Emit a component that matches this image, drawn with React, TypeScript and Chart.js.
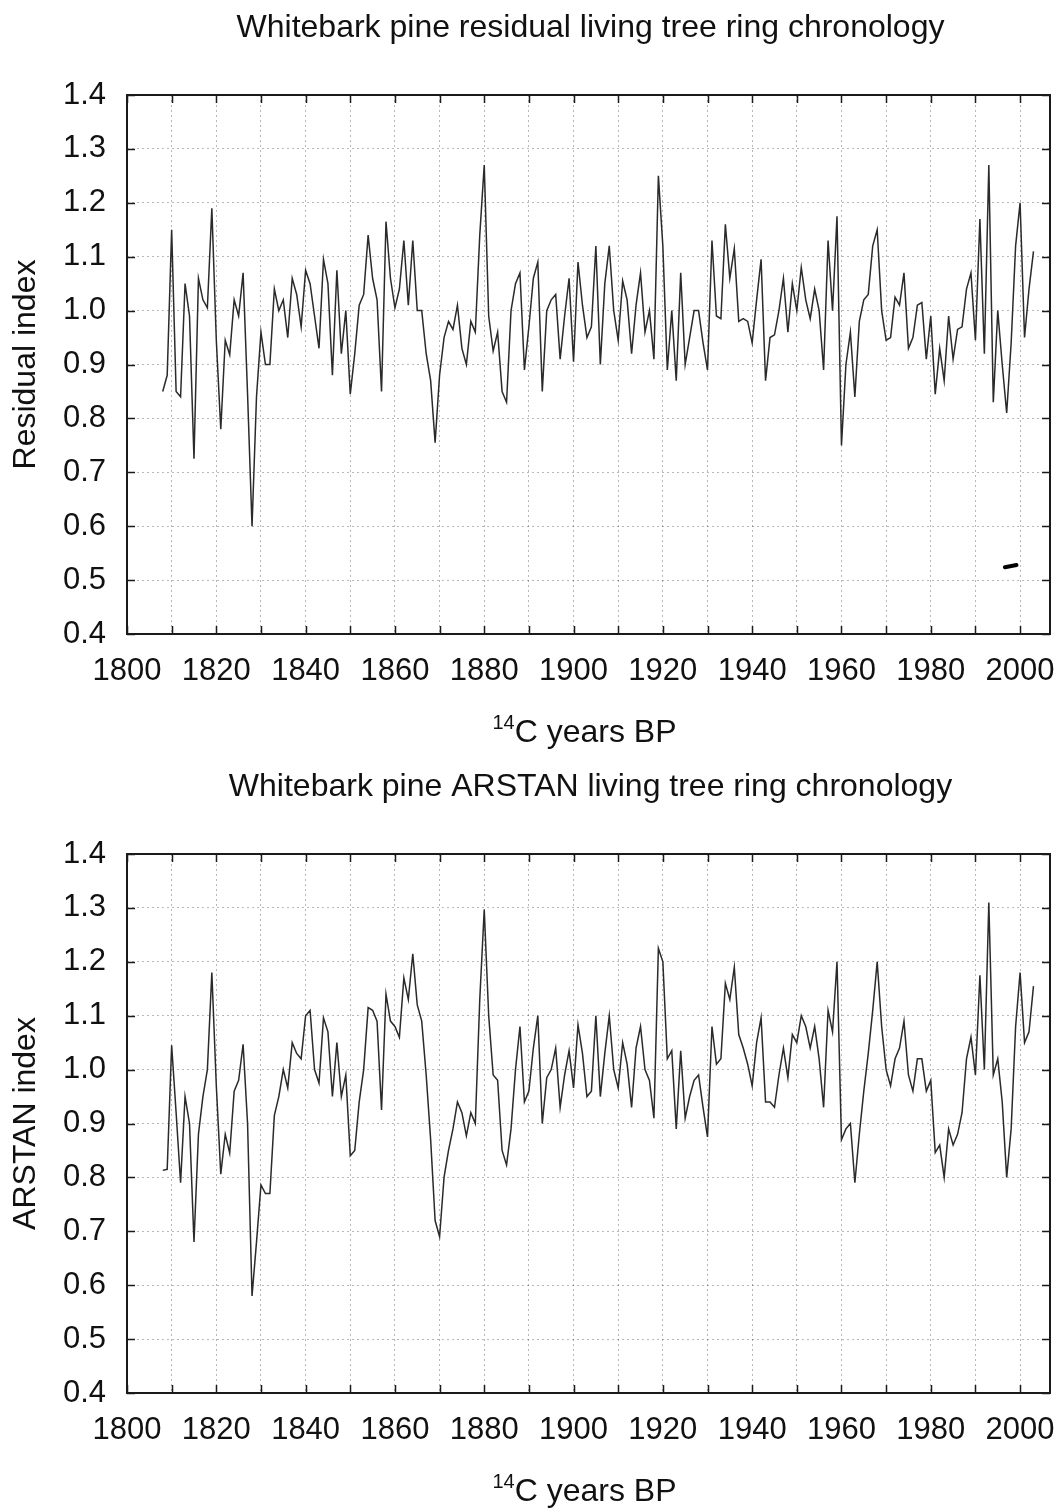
import React, { useEffect, useRef } from "react";
import { Chart, registerables } from "chart.js";

Chart.register(...registerables);

// ---------------- data ----------------
const years = [
  1808, 1809, 1810, 1811, 1812, 1813, 1814, 1815, 1816, 1817,
  1818, 1819, 1820, 1821, 1822, 1823, 1824, 1825, 1826, 1827,
  1828, 1829, 1830, 1831, 1832, 1833, 1834, 1835, 1836, 1837,
  1838, 1839, 1840, 1841, 1842, 1843, 1844, 1845, 1846, 1847,
  1848, 1849, 1850, 1851, 1852, 1853, 1854, 1855, 1856, 1857,
  1858, 1859, 1860, 1861, 1862, 1863, 1864, 1865, 1866, 1867,
  1868, 1869, 1870, 1871, 1872, 1873, 1874, 1875, 1876, 1877,
  1878, 1879, 1880, 1881, 1882, 1883, 1884, 1885, 1886, 1887,
  1888, 1889, 1890, 1891, 1892, 1893, 1894, 1895, 1896, 1897,
  1898, 1899, 1900, 1901, 1902, 1903, 1904, 1905, 1906, 1907,
  1908, 1909, 1910, 1911, 1912, 1913, 1914, 1915, 1916, 1917,
  1918, 1919, 1920, 1921, 1922, 1923, 1924, 1925, 1926, 1927,
  1928, 1929, 1930, 1931, 1932, 1933, 1934, 1935, 1936, 1937,
  1938, 1939, 1940, 1941, 1942, 1943, 1944, 1945, 1946, 1947,
  1948, 1949, 1950, 1951, 1952, 1953, 1954, 1955, 1956, 1957,
  1958, 1959, 1960, 1961, 1962, 1963, 1964, 1965, 1966, 1967,
  1968, 1969, 1970, 1971, 1972, 1973, 1974, 1975, 1976, 1977,
  1978, 1979, 1980, 1981, 1982, 1983, 1984, 1985, 1986, 1987,
  1988, 1989, 1990, 1991, 1992, 1993, 1994, 1995, 1996, 1997,
  1998, 1999, 2000, 2001, 2002, 2003,
];

const residualIndex = [
  0.85, 0.88, 1.15, 0.85, 0.84, 1.05, 0.99, 0.725, 1.06, 1.02,
  1.005, 1.19, 0.945, 0.78, 0.945, 0.918, 1.02, 0.99, 1.07, 0.845,
  0.6, 0.84, 0.96, 0.9, 0.9, 1.04, 1.0, 1.02, 0.95, 1.06,
  1.03, 0.97, 1.075, 1.05, 0.99, 0.93, 1.095, 1.05, 0.88, 1.075,
  0.92, 1.0, 0.845, 0.92, 1.01, 1.03, 1.14, 1.06, 1.02, 0.85,
  1.165, 1.06, 1.005, 1.04, 1.13, 1.01, 1.13, 1.0, 1.0, 0.92,
  0.87, 0.755, 0.88, 0.95, 0.98, 0.965, 1.01, 0.93, 0.9, 0.98,
  0.96, 1.14, 1.27, 0.99, 0.925, 0.96, 0.85, 0.83, 1.0, 1.05,
  1.07, 0.89, 0.97, 1.06, 1.09, 0.85, 1.0, 1.02, 1.03, 0.91,
  0.99, 1.06, 0.905, 1.09, 1.01, 0.95, 0.97, 1.12, 0.9, 1.05,
  1.12, 1.0, 0.945, 1.055, 1.02, 0.92, 1.01, 1.07, 0.96, 1.0,
  0.91, 1.25, 1.12, 0.89, 1.0, 0.87, 1.07, 0.9, 0.95, 1.0,
  1.0, 0.94, 0.89, 1.13, 0.99, 0.985, 1.16, 1.06, 1.115, 0.98,
  0.985, 0.98, 0.94, 1.02, 1.095, 0.87, 0.95, 0.955, 1.0, 1.06,
  0.96, 1.05, 1.0, 1.08, 1.02, 0.985, 1.04, 1.0, 0.89, 1.13,
  1.0, 1.175, 0.75, 0.9, 0.96, 0.84, 0.98, 1.02, 1.03, 1.12,
  1.15, 1.0, 0.945, 0.95, 1.025, 1.01, 1.07, 0.93, 0.95, 1.01,
  1.015, 0.91, 0.99, 0.845, 0.93, 0.87, 0.99, 0.91, 0.965, 0.97,
  1.04, 1.07, 0.945, 1.17, 0.92, 1.27, 0.83, 1.0, 0.9, 0.81,
  0.94, 1.12, 1.2, 0.95, 1.04, 1.11,
];

const arstanIndex = [
  0.813, 0.815, 1.045, 0.92, 0.79, 0.95, 0.9, 0.68, 0.88, 0.95,
  1.0, 1.18, 0.97, 0.806, 0.88, 0.845, 0.96, 0.98, 1.047, 0.9,
  0.58, 0.68, 0.786, 0.77, 0.77, 0.915, 0.95, 1.0, 0.966, 1.05,
  1.03, 1.02, 1.1, 1.11, 1.0, 0.975, 1.096, 1.07, 0.95, 1.05,
  0.95, 0.99, 0.84, 0.85, 0.94, 1.0, 1.115, 1.11, 1.09, 0.925,
  1.14, 1.09, 1.08, 1.06, 1.17, 1.13, 1.215, 1.12, 1.09, 0.99,
  0.87, 0.72, 0.69, 0.8, 0.85, 0.89, 0.94, 0.92, 0.877, 0.92,
  0.9, 1.13, 1.297, 1.1, 0.99, 0.98, 0.85, 0.823, 0.89, 1.0,
  1.08, 0.94, 0.96, 1.04, 1.1, 0.9, 0.985, 1.0, 1.04, 0.93,
  0.99, 1.035, 0.966, 1.083, 1.03, 0.95, 0.96, 1.1, 0.95, 1.03,
  1.1, 1.0, 0.966, 1.05, 1.01, 0.93, 1.04, 1.08, 1.0, 0.98,
  0.91, 1.225, 1.2, 1.02, 1.035, 0.89, 1.035, 0.91, 0.95, 0.98,
  0.99, 0.93, 0.875, 1.08, 1.01, 1.02, 1.16, 1.13, 1.19, 1.065,
  1.04, 1.01, 0.97, 1.05, 1.096, 0.94, 0.94, 0.93, 0.99, 1.04,
  0.985, 1.065, 1.05, 1.1, 1.08, 1.04, 1.08, 1.02, 0.93, 1.11,
  1.07, 1.2, 0.87, 0.89, 0.9, 0.79, 0.88, 0.96, 1.03, 1.11,
  1.2, 1.08, 1.0, 0.97, 1.02, 1.04, 1.09, 0.99, 0.96, 1.02,
  1.02, 0.96, 0.98, 0.846, 0.86, 0.8, 0.89, 0.86, 0.88, 0.92,
  1.02, 1.06, 0.99, 1.175, 1.0, 1.31, 0.99, 1.02, 0.94, 0.8,
  0.89, 1.08, 1.18, 1.05, 1.07, 1.155,
];

// small stray ink mark in the lower right of the upper panel
const smudgeYears = [1996.6, 1999.2];
const smudgeValues = [0.524, 0.528];

const xMin = 1800;
const xMax = 2006.7;
const yMin = 0.4;
const yMax = 1.4;

const FONT = '"Liberation Sans", Arial, Helvetica, sans-serif';

// ---------------- plugin ----------------
const framePlugin = {
  id: "frameDeco",
  afterDraw(chart: any, _args: any, opts: any) {
    const { ctx, chartArea: a, scales } = chart;
    ctx.save();
    // inward ticks
    ctx.strokeStyle = "#1a1a1a";
    ctx.lineWidth = 1.5;
    ctx.beginPath();
    scales.x.ticks.forEach((t: any) => {
      const px = Math.round(scales.x.getPixelForValue(t.value)) + 0.5;
      ctx.moveTo(px, a.bottom);
      ctx.lineTo(px, a.bottom - 8);
      ctx.moveTo(px, a.top);
      ctx.lineTo(px, a.top + 8);
    });
    scales.y.ticks.forEach((t: any) => {
      const py = Math.round(scales.y.getPixelForValue(t.value)) + 0.5;
      ctx.moveTo(a.left, py);
      ctx.lineTo(a.left + 8, py);
      ctx.moveTo(a.right, py);
      ctx.lineTo(a.right - 8, py);
    });
    ctx.stroke();
    // frame
    ctx.lineWidth = 2;
    ctx.strokeStyle = "#1a1a1a";
    ctx.strokeRect(a.left, a.top, a.right - a.left, a.bottom - a.top);

    // chart title, centred over the plot
    const cx = (a.left + a.right) / 2;
    ctx.fillStyle = "#111";
    ctx.textAlign = "center";
    ctx.textBaseline = "middle";
    ctx.font = `32px ${FONT}`;
    ctx.fillText(opts.title, cx + 2, a.top - opts.titleOffset);

    // x axis title with superscript 14
    const main = "C years BP";
    const sup = "14";
    ctx.font = `32px ${FONT}`;
    const wMain = ctx.measureText(main).width;
    ctx.font = `20px ${FONT}`;
    const wSup = ctx.measureText(sup).width;
    const total = wMain + wSup;
    const x0 = cx - total / 2 - 4;
    const ty = opts.xTitleY;
    ctx.textAlign = "left";
    ctx.textBaseline = "alphabetic";
    ctx.font = `20px ${FONT}`;
    ctx.fillText(sup, x0, ty - 1);
    ctx.font = `32px ${FONT}`;
    ctx.fillText(main, x0 + wSup, ty + 12);
    ctx.restore();
  },
};

type PanelProps = {
  title: string;
  yTitle: string;
  values: number[];
  showSmudge?: boolean;
};

function Panel({ title, yTitle, values, showSmudge }: PanelProps) {
  const ref = useRef<HTMLCanvasElement | null>(null);

  useEffect(() => {
    if (!ref.current) return;
    const datasets: any[] = [
      {
        data: years.map((yr, i) => ({ x: yr, y: values[i] })),
        borderColor: "#2a2a2a",
        borderWidth: 1.5,
        pointRadius: 0,
        tension: 0,
        fill: false,
      },
    ];
    if (showSmudge) {
      datasets.push({
        data: smudgeYears.map((yr, i) => ({ x: yr, y: smudgeValues[i] })),
        borderColor: "#000",
        borderWidth: 4,
        pointRadius: 0,
        borderCapStyle: "round",
      });
    }
    const chart = new Chart(ref.current, {
      type: "line",
      data: { datasets },
      plugins: [framePlugin as any],
      options: {
        animation: false,
        responsive: false,
        devicePixelRatio: 1,
        layout: { padding: { top: 95, right: 8, left: 0, bottom: 0 } },
        plugins: {
          legend: { display: false },
          tooltip: { enabled: false },
          title: { display: false },
          frameDeco: { title, titleOffset: 67, xTitleY: 730 },
        } as any,
        scales: {
          x: {
            type: "linear",
            min: xMin,
            max: xMax,
            afterFit: (s: any) => {
              s.height = 120;
              s.paddingLeft = 0;
              s.paddingRight = 0;
            },
            ticks: {
              stepSize: 10,
              includeBounds: false,
              autoSkip: false,
              maxRotation: 0,
              padding: 19,
              color: "#111",
              font: { family: FONT, size: 31 },
              callback: (v: any) => (Number(v) % 20 === 0 ? String(v) : ""),
            },
            grid: {
              color: "rgba(0,0,0,0.28)",
              lineWidth: 1,
              drawTicks: false,
            },
            border: { display: false, dash: [2, 3] },
          },
          y: {
            type: "linear",
            min: yMin,
            max: yMax,
            afterFit: (s: any) => {
              s.width = 127;
              s.paddingTop = 0;
              s.paddingBottom = 0;
            },
            ticks: {
              stepSize: 0.1,
              padding: 21,
              color: "#111",
              font: { family: FONT, size: 31 },
              callback: (v: any) => Number(v).toFixed(1),
            },
            grid: {
              color: "rgba(0,0,0,0.28)",
              lineWidth: 1,
              drawTicks: false,
            },
            border: { display: false, dash: [2, 3] },
            title: {
              display: true,
              text: yTitle,
              color: "#111",
              font: { family: FONT, size: 32 },
              padding: { top: 7, bottom: 0 },
            },
          },
        },
      },
    } as any);
    return () => chart.destroy();
  }, [title, yTitle, values, showSmudge]);

  return <canvas ref={ref} width={1058} height={754} style={{ display: "block" }} />;
}

export default function App() {
  return (
    <div
      style={{
        position: "absolute",
        left: 0,
        top: 0,
        width: 1058,
        height: 1508,
        overflow: "hidden",
        background: "#fff",
      }}
    >
      <div style={{ position: "absolute", left: 0, top: 0, width: 1058, height: 754 }}>
        <Panel
          title="Whitebark pine residual living tree ring chronology"
          yTitle="Residual index"
          values={residualIndex}
          showSmudge
        />
      </div>
      <div style={{ position: "absolute", left: 0, top: 759, width: 1058, height: 749, overflow: "hidden" }}>
        <Panel
          title="Whitebark pine ARSTAN living tree ring chronology"
          yTitle="ARSTAN index"
          values={arstanIndex}
        />
      </div>
    </div>
  );
}
